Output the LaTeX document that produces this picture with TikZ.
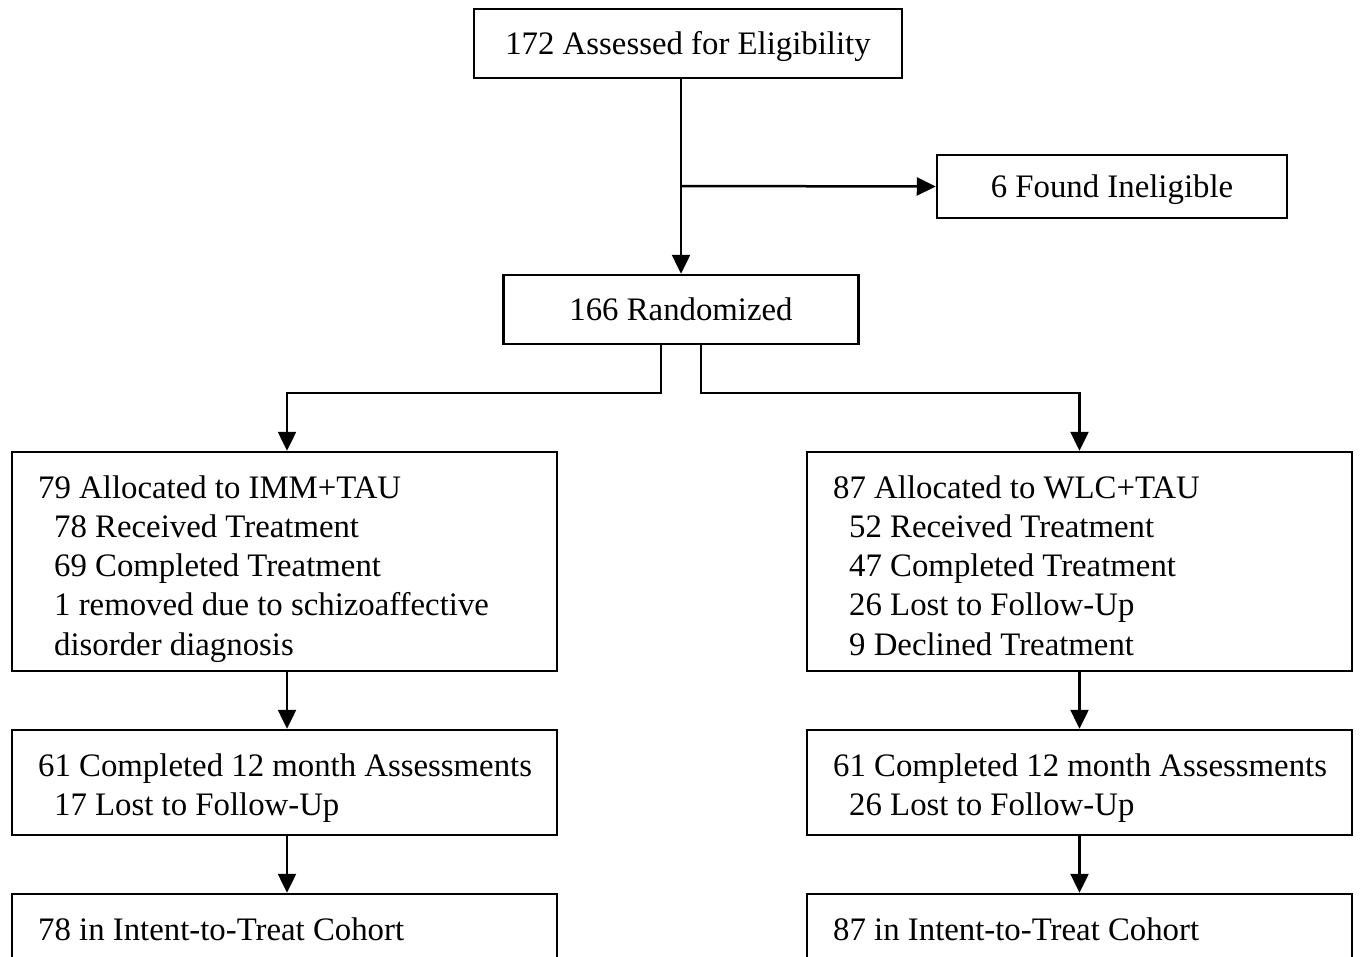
\documentclass[tikz,border=0pt]{standalone}
\usepackage{fontspec}
\setmainfont{Liberation Serif}
\usetikzlibrary{arrows.meta}
\begin{document}
\begin{tikzpicture}[x=1pt,y=-1pt,
  lw/.style={line width=2.5pt},
  box/.style={draw, lw, font=\fontsize{32.8}{39.3}\selectfont, inner sep=0pt, text height=22pt, text depth=0pt},
  frame/.style={draw, lw, inner sep=0pt, minimum width=545pt},
  txt/.style={font=\fontsize{32.8}{39.3}\selectfont, inner sep=0pt, anchor=base west},
  arr/.style={lw, -{Triangle[length=19pt,width=18pt]}},
  ln/.style={lw}]
\useasboundingbox (0,0) rectangle (1360,956);
\clip (0,0) rectangle (1360,956);
% single-line boxes
\node[box, minimum width=428pt, minimum height=69pt] (top) at (688,43.5) {172 Assessed for Eligibility};
\node[box, minimum width=350pt, minimum height=63pt] (inel) at (1112,186.5) {6 Found Ineligible};
\node[box, minimum width=355pt, minimum height=69pt] (rand) at (681,309.5) {166 Randomized};
% wide boxes
\node[frame, minimum height=219pt] (L1) at (284.5,561.5) {};
\node[frame, minimum height=219pt] (R1) at (1079.5,561.5) {};
\node[frame, minimum height=105pt] (L2) at (284.5,782.5) {};
\node[frame, minimum height=105pt] (R2) at (1079.5,782.5) {};
\node[frame, minimum height=70pt] (L3) at (284.5,929) {};
\node[frame, minimum height=70pt] (R3) at (1079.5,929) {};
% texts
\node[txt] (L1t) at (38,498) {\begin{tabular}[t]{@{}l@{}}79 Allocated to IMM+TAU\\
\hspace*{16pt}78 Received Treatment\\
\hspace*{16pt}69 Completed Treatment\\
\hspace*{16pt}1 removed due to schizoaffective\\
\hspace*{16pt}disorder diagnosis\end{tabular}};
\node[txt] (R1t) at (833,498) {\begin{tabular}[t]{@{}l@{}}87 Allocated to WLC+TAU\\
\hspace*{16pt}52 Received Treatment\\
\hspace*{16pt}47 Completed Treatment\\
\hspace*{16pt}26 Lost to Follow-Up\\
\hspace*{16pt}9 Declined Treatment\end{tabular}};
\node[txt] (L2t) at (38,776) {\begin{tabular}[t]{@{}l@{}}61 Completed 12 month Assessments\\
\hspace*{16pt}17 Lost to Follow-Up\end{tabular}};
\node[txt] (R2t) at (833,776) {\begin{tabular}[t]{@{}l@{}}61 Completed 12 month Assessments\\
\hspace*{16pt}26 Lost to Follow-Up\end{tabular}};
\node[txt] (L3t) at (38,940) {78 in Intent-to-Treat Cohort};
\node[txt] (R3t) at (833,940) {87 in Intent-to-Treat Cohort};
% connectors
\coordinate (br) at (rand.north |- 0,186);
\draw[ln] (rand.north |- top.south) -- (br);
\draw[arr] (br) -- (rand.north);
\draw[arr] (br) -- (inel.west);
\coordinate (sl) at ([xshift=-20pt]rand.south);
\coordinate (sr) at ([xshift=20pt]rand.south);
\draw[arr] (sl) |- ([xshift=2.5pt]L1.north |- 0,393) -- ([xshift=2.5pt]L1.north);
\draw[arr] (sr) |- (R1.north |- 0,393) -- (R1.north);
\draw[arr] ([xshift=2.5pt]L1.south) -- ([xshift=2.5pt]L2.north);
\draw[arr] ([xshift=2.5pt]L2.south) -- ([xshift=2.5pt]L3.north);
\draw[arr] (R1.south) -- (R2.north);
\draw[arr] (R2.south) -- (R3.north);
\end{tikzpicture}
\end{document}
